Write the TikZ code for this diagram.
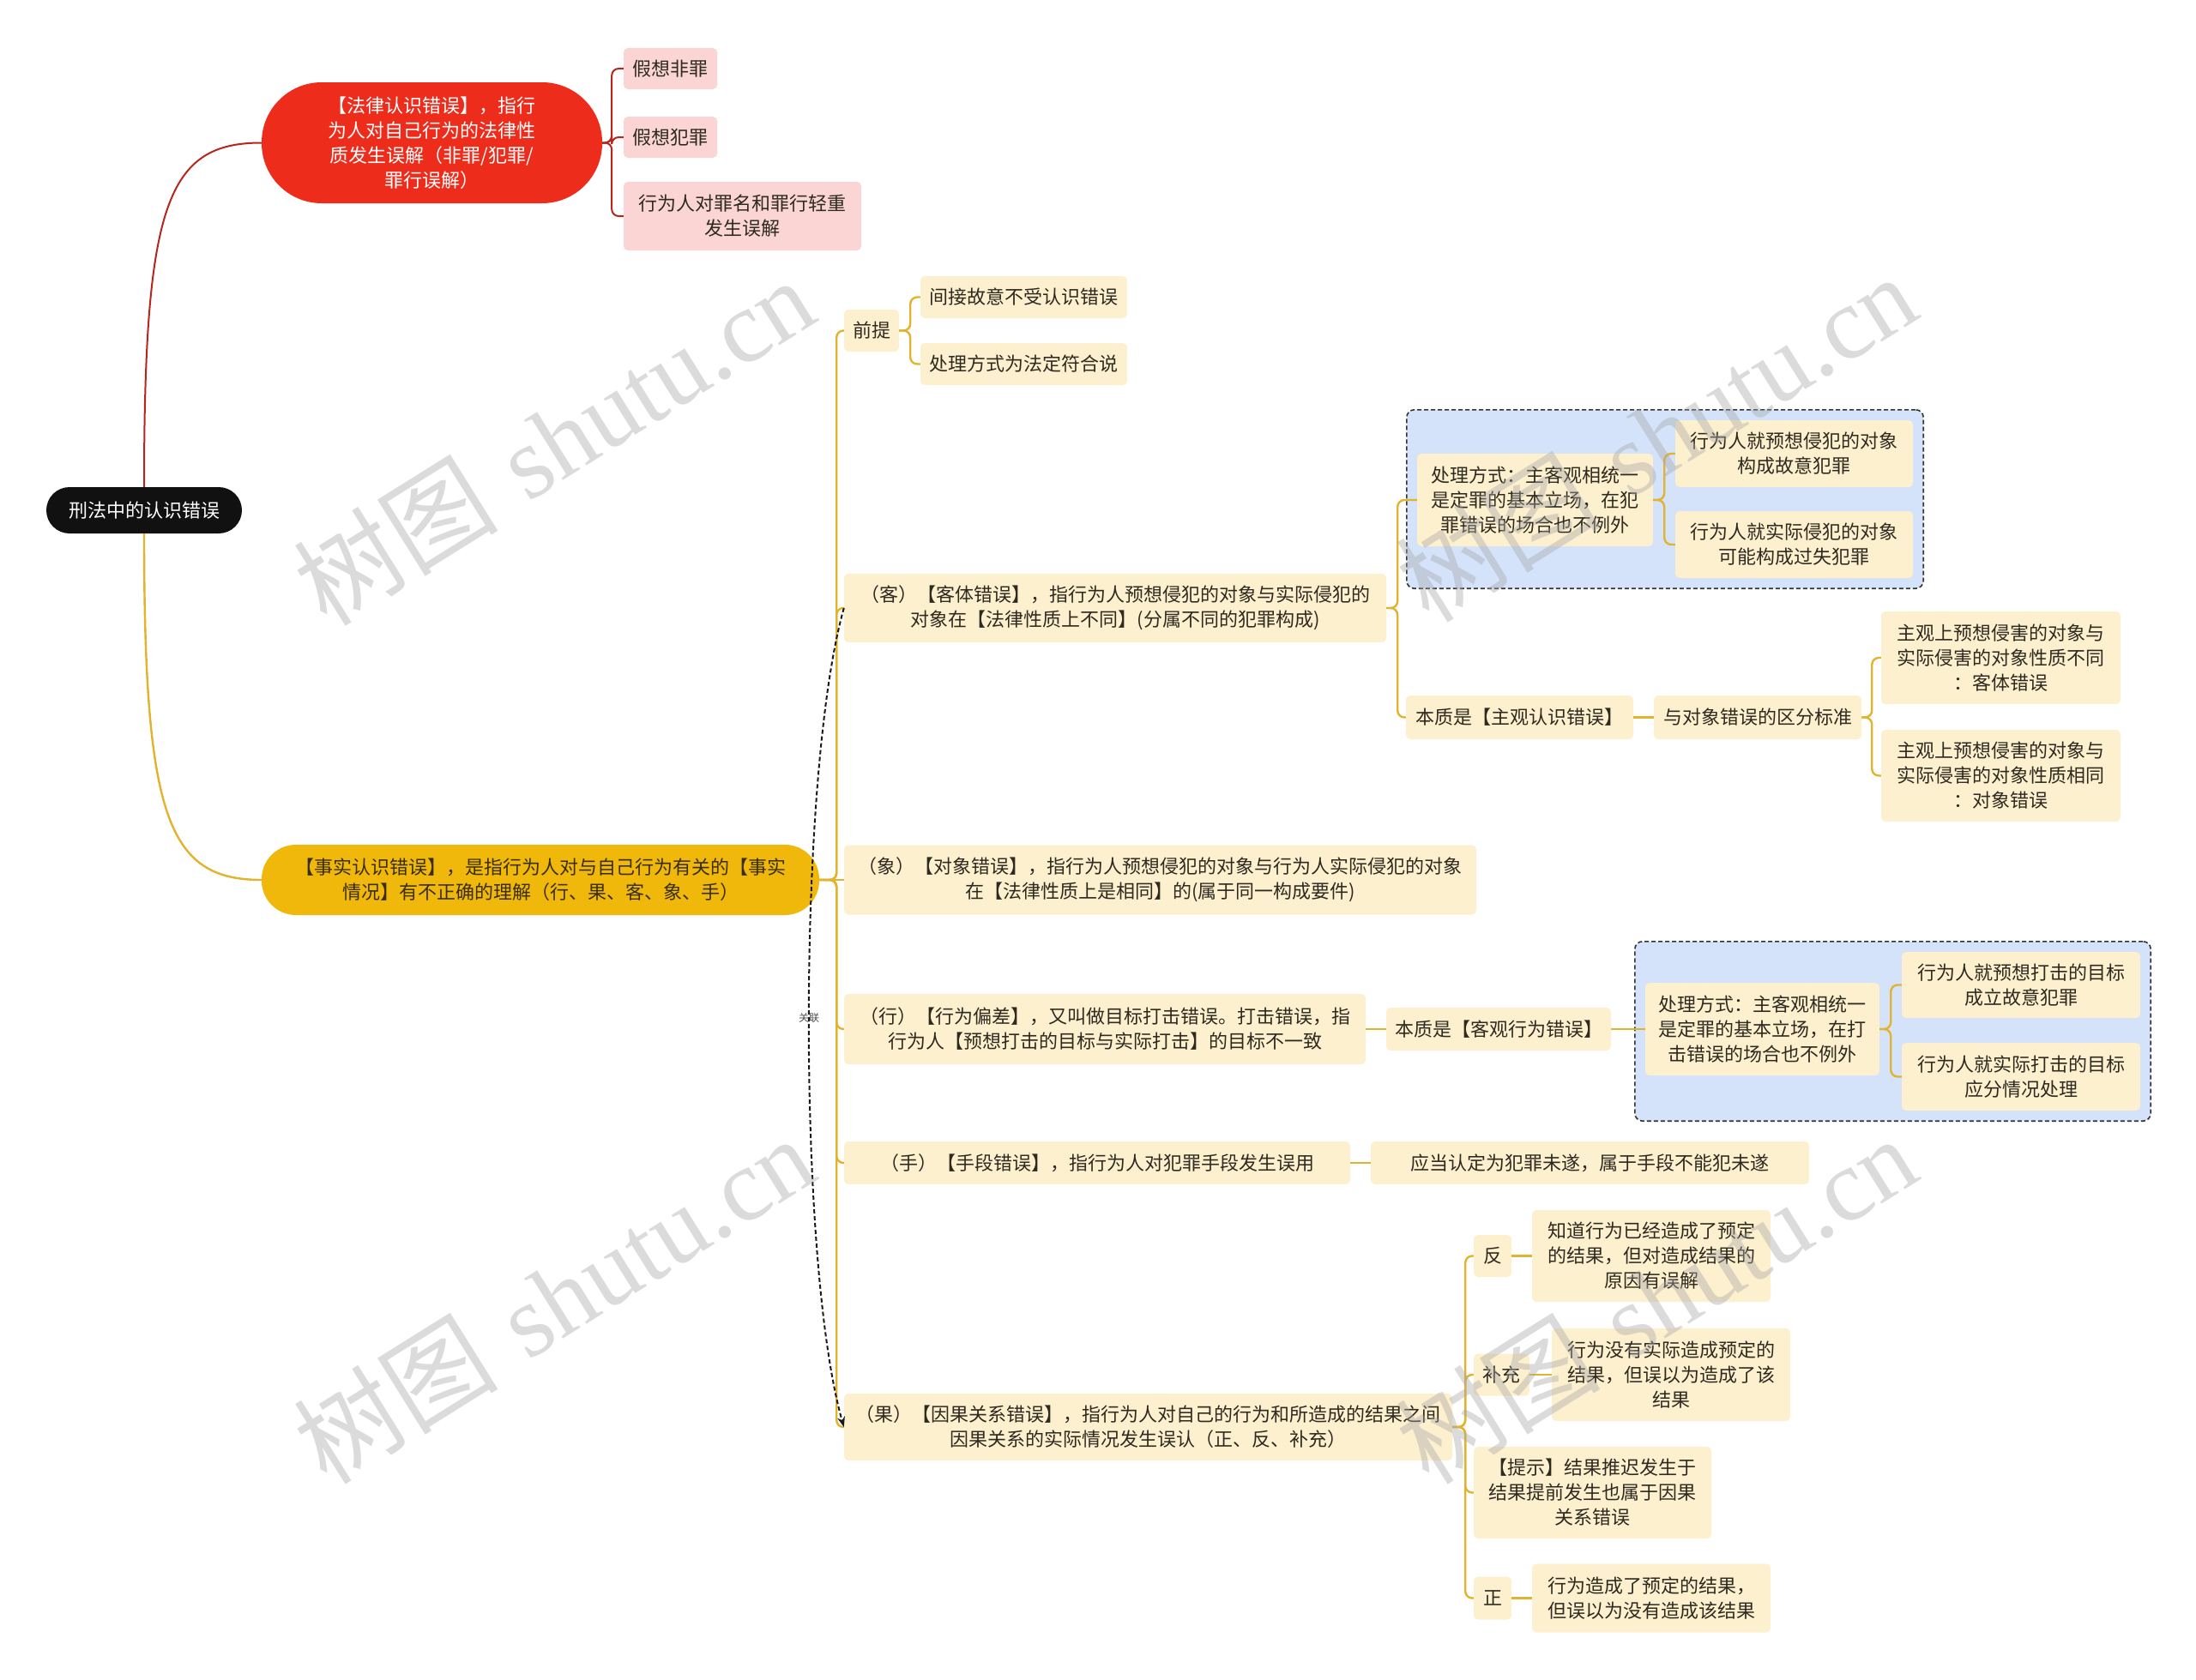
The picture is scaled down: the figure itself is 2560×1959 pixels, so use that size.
\documentclass[tikz,border=0pt]{standalone}
\usepackage{fontspec}
\newfontfamily\cjk{Noto Sans CJK SC}
\newfontfamily\wmserif{Liberation Serif}
\usetikzlibrary{arrows.meta,fit,backgrounds}
\definecolor{rootc}{HTML}{111111}
\definecolor{lawc}{HTML}{EE2C1B}
\definecolor{pinkc}{HTML}{FBD5D3}
\definecolor{factc}{HTML}{F0B80A}
\definecolor{facttxt}{HTML}{3A2E08}
\definecolor{creamc}{HTML}{FDF0CF}
\definecolor{txtc}{HTML}{2E2A20}
\definecolor{bluec}{HTML}{D4E2FA}
\definecolor{bluedraw}{HTML}{333333}
\definecolor{yconnc}{HTML}{E2B32C}
\definecolor{rconnc}{HTML}{B5271C}
\tikzset{
  tx/.style={font=\cjk\fontsize{22}{29}\selectfont, align=center, inner sep=0pt},
  sz/.style 2 args={minimum width=#1, minimum height=#2},
  rootn/.style={tx, fill=rootc, text=white, rounded corners=27pt},
  lawn/.style={tx, fill=lawc, text=white, rounded corners=70pt},
  pinkn/.style={tx, fill=pinkc, text=txtc, rounded corners=5pt},
  factn/.style={tx, fill=factc, text=facttxt, rounded corners=40pt},
  cr/.style={tx, fill=creamc, text=txtc, rounded corners=5pt},
  bluebox/.style={draw=bluedraw, fill=bluec, line width=1.6pt, rounded corners=9pt, inner sep=12pt, dash pattern=on 5pt off 3pt},
  yconn/.style={draw=yconnc, line width=2.4pt, rounded corners=8pt},
  rconn/.style={draw=rconnc, line width=2pt, rounded corners=8pt},
  relconn/.style={draw=black!90, line width=2pt, dash pattern=on 5pt off 3pt, -{Stealth[length=12pt,width=9pt]}},
  rellabel/.style={font=\cjk\fontsize{12}{14}\selectfont, text=black!70, inner sep=1pt},
  wm/.style={rotate=32, text=black!35, opacity=0.4, font=\fontsize{120}{120}\selectfont, inner sep=0pt}
}
\begin{document}
\begin{tikzpicture}[x=1pt,y=-1pt]
\begin{scope}[on background layer]
\fill[white] (0,0) rectangle (2560,1959);
\end{scope}
\useasboundingbox (0,0) rectangle (2560,1959);

% root and first level
\node[rootn, sz={228}{54}] (root) at (168,595) {刑法中的认识错误};
\node[lawn, sz={397}{141}] (law) at (503.5,166.5) {【法律认识错误】，指行\\为人对自己行为的法律性\\质发生误解（非罪/犯罪/\\罪行误解）};
\node[factn, sz={650}{82}] (fact) at (630,1026) {【事实认识错误】，是指行为人对与自己行为有关的【事实\\情况】有不正确的理解（行、果、客、象、手）};

% law children
\node[pinkn, sz={109}{48}] (p1) at (781.5,80) {假想非罪};
\node[pinkn, sz={109}{48}] (p2) at (781.5,160) {假想犯罪};
\node[pinkn, sz={277}{80}] (p3) at (865.5,252) {行为人对罪名和罪行轻重\\发生误解};

% fact children
\node[cr, sz={64}{49}] (qt) at (1016,385.5) {前提};
\node[cr, sz={241}{49}] (q1) at (1193.5,346.5) {间接故意不受认识错误};
\node[cr, sz={241}{49}] (q2) at (1193.5,424.5) {处理方式为法定符合说};

\node[cr, sz={632}{80}] (ke) at (1300,709) {（客）【客体错误】，指行为人预想侵犯的对象与实际侵犯的\\对象在【法律性质上不同】(分属不同的犯罪构成)};
\node[cr, sz={275}{108}] (kp) at (1789.5,583) {处理方式：主客观相统一\\是定罪的基本立场，在犯\\罪错误的场合也不例外};
\node[cr, sz={277}{78}] (kp1) at (2091.5,529) {行为人就预想侵犯的对象\\构成故意犯罪};
\node[cr, sz={277}{78}] (kp2) at (2091.5,635) {行为人就实际侵犯的对象\\可能构成过失犯罪};
\node[cr, sz={265}{51}] (kb) at (1771.5,836.5) {本质是【主观认识错误】};
\node[cr, sz={242}{51}] (kd) at (2049,836.5) {与对象错误的区分标准};
\node[cr, sz={279}{108}] (kd1) at (2332.5,767) {主观上预想侵害的对象与\\实际侵害的对象性质不同\\：客体错误};
\node[cr, sz={279}{107}] (kd2) at (2332.5,904.5) {主观上预想侵害的对象与\\实际侵害的对象性质相同\\：对象错误};

\node[cr, sz={737}{81}] (xiang) at (1352.5,1026) {（象）【对象错误】，指行为人预想侵犯的对象与行为人实际侵犯的对象\\在【法律性质上是相同】的(属于同一构成要件)};

\node[cr, sz={608}{82}] (xing) at (1288,1200) {（行）【行为偏差】，又叫做目标打击错误。打击错误，指\\行为人【预想打击的目标与实际打击】的目标不一致};
\node[cr, sz={262}{50}] (xb) at (1747,1200) {本质是【客观行为错误】};
\node[cr, sz={273}{108}] (xp) at (2054.5,1200) {处理方式：主客观相统一\\是定罪的基本立场，在打\\击错误的场合也不例外};
\node[cr, sz={278}{77}] (xp1) at (2356,1148.5) {行为人就预想打击的目标\\成立故意犯罪};
\node[cr, sz={278}{79}] (xp2) at (2356,1255.5) {行为人就实际打击的目标\\应分情况处理};

\node[cr, sz={590}{50}] (shou) at (1279,1356) {（手）【手段错误】，指行为人对犯罪手段发生误用};
\node[cr, sz={511}{50}] (sh1) at (1853.5,1356) {应当认定为犯罪未遂，属于手段不能犯未遂};

\node[cr, sz={709}{78}] (guo) at (1338.5,1664) {（果）【因果关系错误】，指行为人对自己的行为和所造成的结果之间\\因果关系的实际情况发生误认（正、反、补充）};
\node[cr, sz={44}{49}] (fan) at (1740,1464.5) {反};
\node[cr, sz={278}{107}] (fan1) at (1925,1464.5) {知道行为已经造成了预定\\的结果，但对造成结果的\\原因有误解};
\node[cr, sz={65}{49}] (bc) at (1750.5,1603) {补充};
\node[cr, sz={278}{108}] (bc1) at (1948,1603) {行为没有实际造成预定的\\结果，但误以为造成了该\\结果};
\node[cr, sz={277}{107}] (ts) at (1856.5,1740.5) {【提示】结果推迟发生于\\结果提前发生也属于因果\\关系错误};
\node[cr, sz={44}{50}] (zheng) at (1740,1863.5) {正};
\node[cr, sz={278}{80}] (z1) at (1925,1863.5) {行为造成了预定的结果，\\但误以为没有造成该结果};

% blue frames
\begin{scope}[on background layer]
\node[bluebox, fit=(kp)(kp1)(kp2)] (b1) {};
\node[bluebox, fit=(xp)(xp1)(xp2)] (b2) {};
\end{scope}

% connectors
\draw[rconn] (root.north) .. controls +(0,-330) and +(-110,0) .. (law.west);
\draw[yconn] (root.south) .. controls +(0,330) and +(-110,0) .. (fact.west);

\foreach \c in {p1,p2,p3} \draw[rconn] (law.east) -- ++(11,0) |- (\c.west);
\foreach \c in {qt,ke,xing,shou,guo} \draw[yconn] (fact.east) -- ++(20,0) |- (\c.west);
\draw[yconn] (fact.east) -- (xiang.west);
\foreach \c in {q1,q2} \draw[yconn] (qt.east) -- ++(13,0) |- (\c.west);
\foreach \c in {kp,kb} \draw[yconn] (ke.east) -- ++(13,0) |- (\c.west);
\foreach \c in {kp1,kp2} \draw[yconn] (kp.east) -- ++(13,0) |- (\c.west);
\draw[yconn] (kb.east) -- (kd.west);
\foreach \c in {kd1,kd2} \draw[yconn] (kd.east) -- ++(12,0) |- (\c.west);
\draw[yconn] (xing.east) -- (xb.west);
\draw[yconn] (xb.east) -- (xp.west);
\foreach \c in {xp1,xp2} \draw[yconn] (xp.east) -- ++(13,0) |- (\c.west);
\draw[yconn] (shou.east) -- (sh1.west);
\foreach \c in {fan,bc,ts,zheng} \draw[yconn] (guo.east) -- ++(15,0) |- (\c.west);
\draw[yconn] (fan.east) -- (fan1.west);
\draw[yconn] (bc.east) -- (bc1.west);
\draw[yconn] (zheng.east) -- (z1.west);

% relation
\draw[relconn] (ke.west) .. controls (929.5,900) and (929.5,1474) .. (guo.west) node[pos=0.5, rellabel] (rel) {关联};

% watermarks
\node[wm] (w1) at (645,514) {{\cjk 树图} {\wmserif shutu.cn}};
\node[wm] (w2) at (1930,510) {{\cjk 树图} {\wmserif shutu.cn}};
\node[wm] (w3) at (645,1515) {{\cjk 树图} {\wmserif shutu.cn}};
\node[wm] (w4) at (1930,1515) {{\cjk 树图} {\wmserif shutu.cn}};
\end{tikzpicture}
\end{document}
